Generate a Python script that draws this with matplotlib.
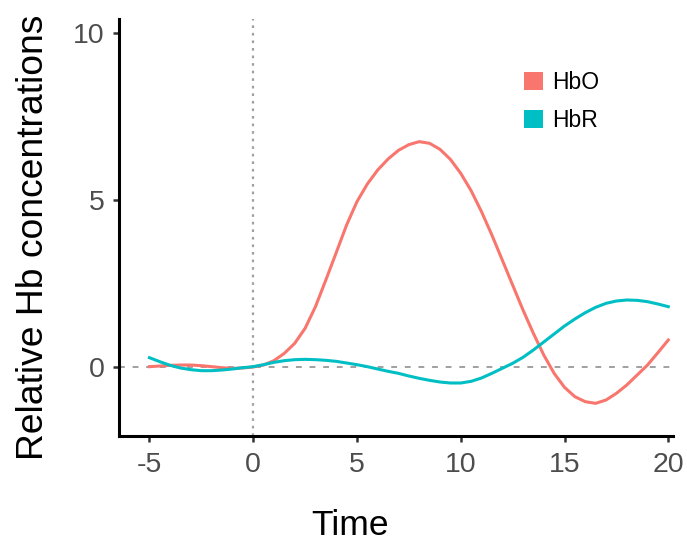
import numpy as np
import matplotlib
matplotlib.use("Agg")
import matplotlib.pyplot as plt
from matplotlib.patches import Patch

plt.rcParams['font.family'] = ['Liberation Sans', 'DejaVu Sans']

# time axis (seconds), read every 0.5 from the picture
time = np.arange(-5, 20.01, 0.5)

hbo = [0.0, 0.02, 0.04, 0.05, 0.05, 0.03, 0.0, -0.03, -0.05, -0.04,
       -0.01, 0.05, 0.18, 0.4, 0.7, 1.15, 1.8, 2.6, 3.42, 4.25,
       4.95, 5.48, 5.9, 6.23, 6.49, 6.66, 6.75, 6.7, 6.52, 6.22,
       5.8, 5.28, 4.65, 3.95, 3.2, 2.45, 1.7, 1.0, 0.35, -0.2,
       -0.62, -0.9, -1.05, -1.1, -1.0, -0.8, -0.55, -0.25, 0.05, 0.42,
       0.8]

hbr = [0.27, 0.15, 0.04, -0.04, -0.09, -0.12, -0.12, -0.1, -0.07, -0.03,
       0.0, 0.06, 0.13, 0.18, 0.21, 0.22, 0.21, 0.19, 0.16, 0.11,
       0.06, 0.0, -0.07, -0.14, -0.2, -0.28, -0.35, -0.41, -0.46, -0.49,
       -0.49, -0.44, -0.34, -0.2, -0.05, 0.1, 0.28, 0.5, 0.74, 0.98,
       1.22, 1.43, 1.62, 1.78, 1.9, 1.97, 2.0, 1.99, 1.95, 1.88,
       1.8]

series = ["HbO", "HbR"]
colors = ["#F8766D", "#00BFC4"]
xticks = [-5, 0, 5, 10, 15, 20]
yticks = [0, 5, 10]

fig = plt.figure(figsize=(6.87, 5.47), dpi=100)
ax = fig.add_axes([0.1737, 0.2029, 0.8063, 0.7618])

# reference lines
ax.axvline(0, color="#a0a0a0", lw=1.6, ls=(0, (1.2, 2.2)), zorder=1)
ax.axhline(0, color="#a0a0a0", lw=1.4, ls=(0, (3, 4)), zorder=1)

ax.plot(time, hbo, color=colors[0], lw=2.2, zorder=3)
ax.plot(time, hbr, color=colors[1], lw=2.2, zorder=3)

ax.set_xlim(-6.45, 20.24)
ax.set_ylim(-2.08, 10.42)
ax.set_xticks(xticks)
ax.set_yticks(yticks)
ax.set_xticklabels([str(t) for t in xticks])

for side in ["top", "right"]:
    ax.spines[side].set_visible(False)
for side in ["left", "bottom"]:
    ax.spines[side].set_linewidth(2.2)
    ax.spines[side].set_color("black")

ax.tick_params(axis="both", length=4.5, width=1.8, color="#333333",
               labelsize=20.5, labelcolor="#4d4d4d")
ax.tick_params(axis="y", pad=6)
ax.tick_params(axis="x", pad=7)

ax.set_xlabel("Time", fontsize=25.5)
ax.set_ylabel("Relative Hb concentrations", fontsize=26.8)
ax.xaxis.set_label_coords(0.4164, -0.174)
ax.yaxis.set_label_coords(-0.1233, 0.4764)

handles = [Patch(facecolor=c, edgecolor="none") for c in colors]
ax.legend(handles, series, loc="upper left", bbox_to_anchor=(524 / 687, 1 - 71 / 547),
          bbox_transform=fig.transFigure, frameon=False, fontsize=16.5,
          handlelength=0.83, handleheight=0.83, handletextpad=0.4,
          labelspacing=0.65, borderpad=0, borderaxespad=0)

fig.savefig("out.png", dpi=100)
